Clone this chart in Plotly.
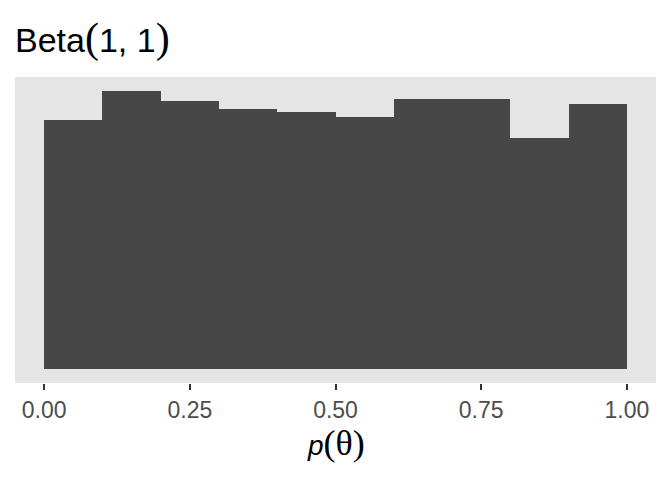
import plotly.graph_objects as go

bin_left = [0.0, 0.1, 0.2, 0.3, 0.4, 0.5, 0.6, 0.7, 0.8, 0.9]
bin_width = 0.1
counts = [96, 107, 103, 100, 99, 97, 104, 104, 89, 102]
tick_vals = [0.0, 0.25, 0.5, 0.75, 1.0]
tick_text = ["0.00", "0.25", "0.50", "0.75", "1.00"]

centers = [b + bin_width / 2 for b in bin_left]
ymax = max(counts)

fig = go.Figure(go.Bar(
    x=centers, y=counts, width=[bin_width] * len(centers),
    marker=dict(color="#474747", line=dict(width=0)),
    hoverinfo="x+y",
))

fig.update_layout(
    width=672, height=480,
    margin=dict(l=15, r=16, t=77, b=97, pad=0),
    paper_bgcolor="white", plot_bgcolor="#E5E5E5",
    showlegend=False, bargap=0,
    font=dict(family="Liberation Sans, Arial, sans-serif"),
    xaxis=dict(
        range=[-0.05, 1.05], tickvals=tick_vals, ticktext=tick_text,
        showgrid=False, zeroline=False, showline=False,
        ticks="outside", ticklen=6, tickwidth=2, tickcolor="#333333",
        tickfont=dict(size=23, color="#4D4D4D", family="Liberation Sans, Arial, sans-serif"),
        fixedrange=True,
    ),
    yaxis=dict(
        range=[-0.05 * ymax, 1.05 * ymax],
        showgrid=False, zeroline=False, showline=False, showticklabels=False,
        ticks="", fixedrange=True,
    ),
    annotations=[
        dict(
            text="Beta<span style='font-family:Liberation Serif;font-size:42px'>(</span>1, 1<span style='font-family:Liberation Serif;font-size:42px'>)</span>",
            xref="paper", yref="paper", x=-0.003, y=(383 - 38) / 306,
            xanchor="left", yanchor="middle", showarrow=False,
            font=dict(size=34, color="black", family="Liberation Sans, Arial, sans-serif"),
        ),
        dict(
            text="<i>p</i><span style='font-family:Liberation Serif;font-size:36px'>(θ)</span>",
            xref="paper", yref="paper", x=0.5, y=(383 - 443) / 306,
            xanchor="center", yanchor="middle", showarrow=False,
            font=dict(size=28, color="black", family="Liberation Sans, Arial, sans-serif"),
        ),
    ],
)

fig.write_html(
    "out.html",
    config={"displayModeBar": False},
    post_script="document.body.style.margin='0';document.body.style.padding='0';",
)
